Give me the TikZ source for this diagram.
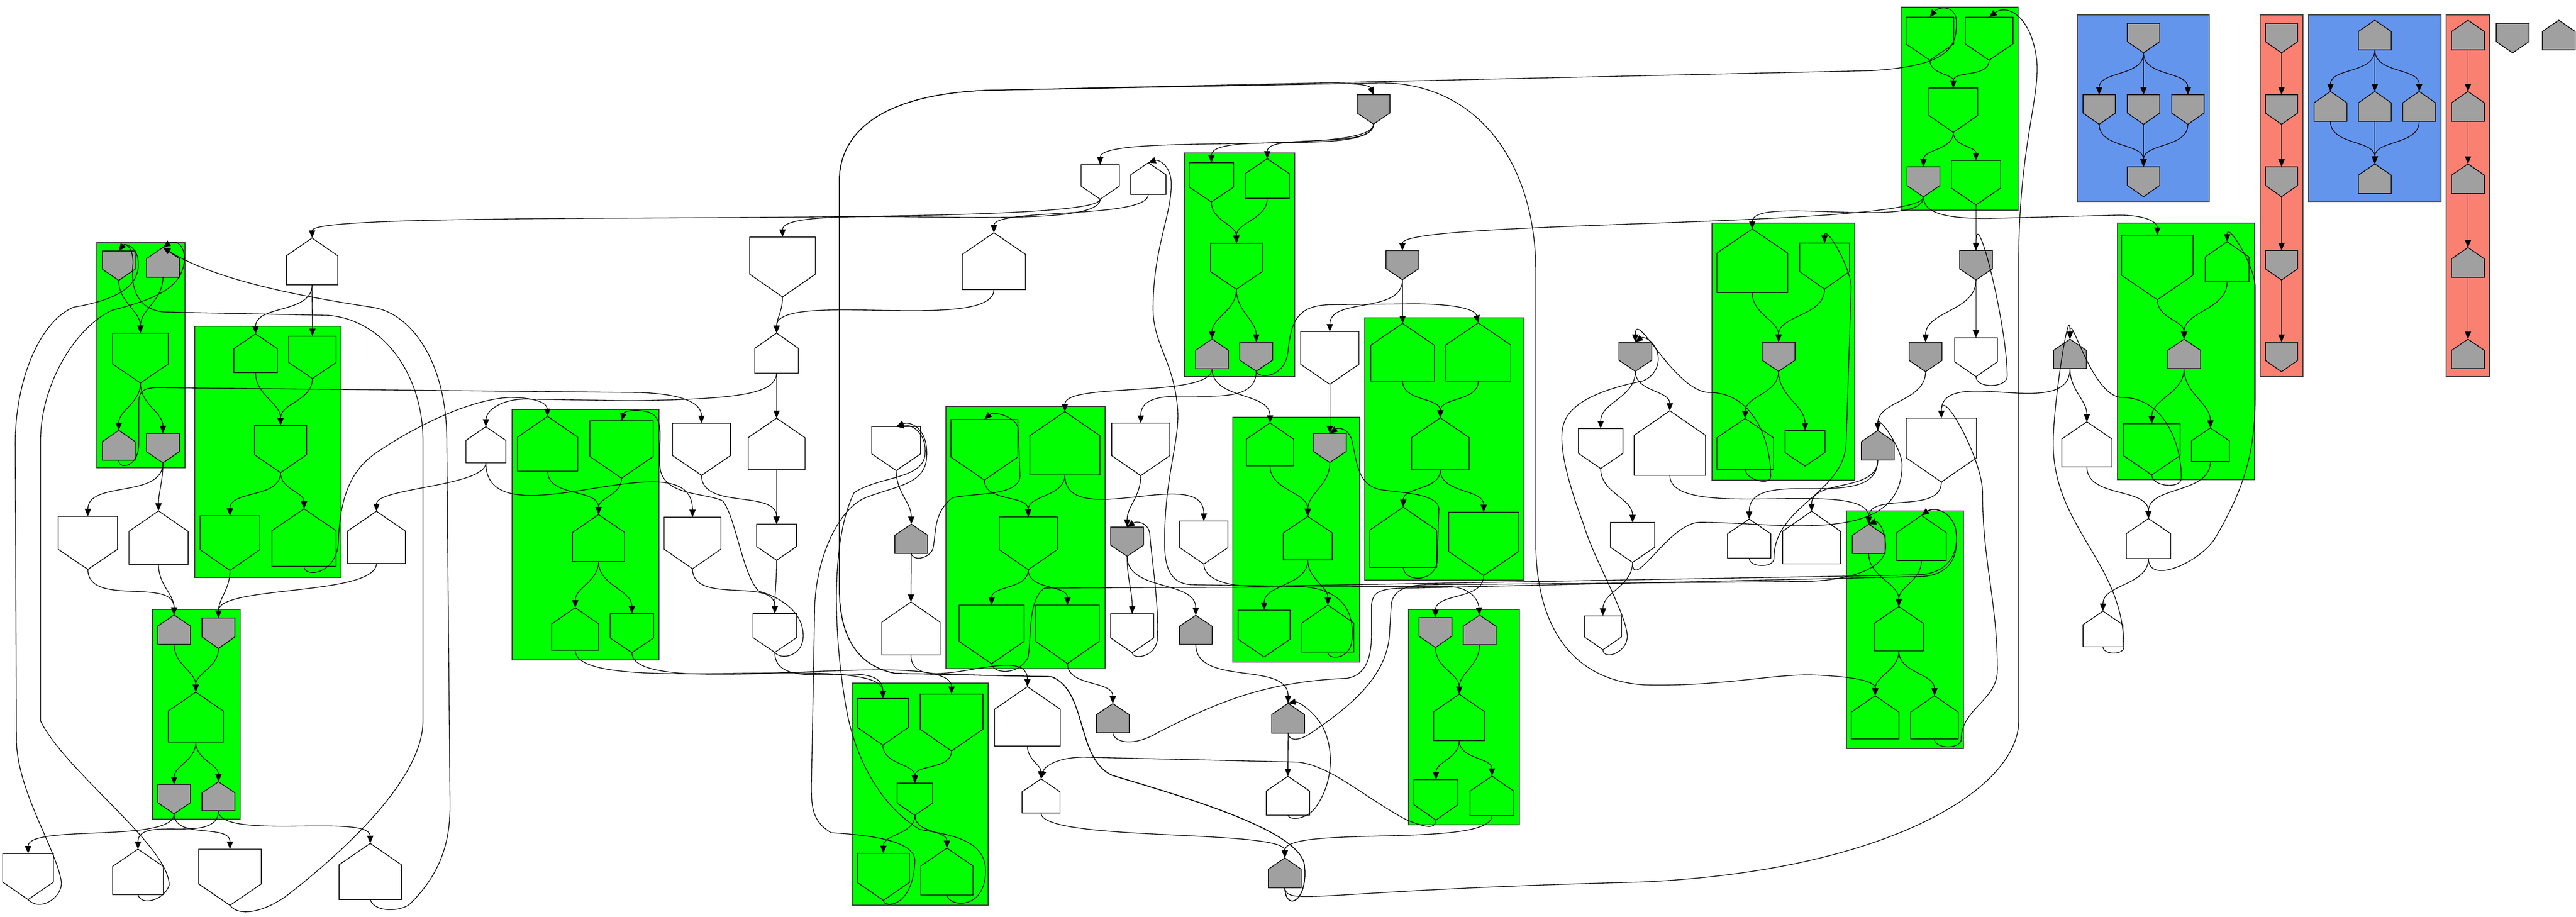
\documentclass[tikz,border=0pt]{standalone}
\usetikzlibrary{calc,arrows.meta}
\definecolor{mygray}{RGB}{160,160,160}
\definecolor{myblue}{RGB}{100,149,237}
\definecolor{myred}{RGB}{250,128,114}
\colorlet{mygreen}{green}
\tikzset{
  vbox/.style={inner sep=0pt,outer sep=0pt,draw=none},
  shp/.style={line width=0.45pt},
  clu/.style={draw=black!75,line width=0.6pt,inner sep=0pt,outer sep=0pt},
  edge/.style={-{Triangle[length=4.6pt,width=3.8pt]},line width=0.42pt},
}
% house pointing up: [fill]{name}{x}{top}{bottom}{width}
\newcommand{\HUp}[6][white]{%
  \node[vbox,minimum width=#6pt,minimum height={(#5-#4)*1pt},anchor=north] (#2) at (#3,-#4) {};
  \filldraw[shp,fill=#1] (#2.south west) -- (#2.south east) -- ($(#2.south east)!0.62!(#2.north east)$)
    -- (#2.north) -- ($(#2.south west)!0.62!(#2.north west)$) -- cycle;}
% house pointing down
\newcommand{\HDn}[6][white]{%
  \node[vbox,minimum width=#6pt,minimum height={(#5-#4)*1pt},anchor=north] (#2) at (#3,-#4) {};
  \filldraw[shp,fill=#1] (#2.north west) -- (#2.north east) -- ($(#2.north east)!0.62!(#2.south east)$)
    -- (#2.south) -- ($(#2.north west)!0.62!(#2.south west)$) -- cycle;}
% cluster box: {name}{colour}{x1}{y1}{x2}{y2}
\newcommand{\Clu}[6]{%
  \node[clu,fill=#2,minimum width={(#5-#3)*1pt},minimum height={(#6-#4)*1pt},anchor=north west] (#1) at (#3,-#4) {};}
\newcommand{\Lnk}[3][1]{\draw[edge] (#2.south) to[out=-90,in=90,looseness=#1] (#3.north);}

\begin{document}
\begin{tikzpicture}[x=1pt,y=1pt]
\useasboundingbox (0,0) rectangle (1568.3,-558.3);
% clusters
\Clu{cG1}{mygreen}{1157.5}{4.5}{1228.5}{128}
\Clu{cB1}{myblue}{1264.6}{9}{1345.1}{122.8}
\Clu{cR1}{myred}{1376}{9}{1402}{229.3}
\Clu{cB2}{myblue}{1405.6}{9}{1486}{122.8}
\Clu{cR2}{myred}{1489.3}{9}{1515.7}{229.3}
\Clu{cG4}{mygreen}{1289}{135.9}{1372.7}{292.1}
\Clu{cG3}{mygreen}{1042.2}{135.8}{1129.2}{292.2}
\Clu{cG5}{mygreen}{1124}{311}{1195.3}{455.7}
\Clu{cGA}{mygreen}{59}{147.6}{112.5}{284.8}
\Clu{cGB}{mygreen}{118.5}{198.7}{207.7}{351.6}
\Clu{cGC}{mygreen}{92.7}{371.2}{146.3}{498.8}
\Clu{cGD}{mygreen}{311.7}{249.4}{401.1}{401.7}
\Clu{cGE}{mygreen}{575.9}{247.5}{672.9}{407.1}
\Clu{cGF}{mygreen}{518.8}{415.8}{601.7}{551.1}
\Clu{cGH}{mygreen}{721}{93.1}{788.2}{229.3}
\Clu{cGI}{mygreen}{830.9}{193.4}{927.8}{353.1}
\Clu{cGJ}{mygreen}{750.6}{254.2}{827.6}{403.2}
\Clu{cGL}{mygreen}{857.4}{371.2}{924.9}{502.3}

% top right
\HDn[mygreen]{g1a}{1174.9}{10.5}{36.7}{29}
\HDn[mygreen]{g1b}{1211}{10.5}{36.7}{29}
\HDn[mygreen]{g1c}{1189.2}{53.6}{80.6}{29.7}
\HDn[mygray]{g1d}{1171}{101.6}{119.9}{20}
\HDn[mygreen]{g1e}{1203}{97.7}{124.8}{30}
\HDn[mygray]{b1a}{1305}{14.2}{32.2}{19.7}
\HDn[mygray]{b1b}{1278}{57.7}{75.7}{19.7}
\HDn[mygray]{b1c}{1305}{57.7}{75.7}{19.7}
\HDn[mygray]{b1d}{1332}{57.7}{75.7}{19.7}
\HDn[mygray]{b1e}{1305}{101.6}{119.8}{19.7}
\HDn[mygray]{r1a}{1389}{14.2}{32.2}{19.6}
\HDn[mygray]{r1b}{1389}{57.7}{75.7}{19.6}
\HDn[mygray]{r1c}{1389}{101.6}{119.8}{19.6}
\HDn[mygray]{r1d}{1389}{152.5}{170.5}{19.6}
\HDn[mygray]{r1e}{1389}{208.3}{226.3}{19.6}
\HUp[mygray]{b2a}{1445.8}{12.3}{30.4}{20}
\HUp[mygray]{b2b}{1418.8}{55.7}{73.9}{20}
\HUp[mygray]{b2c}{1445.8}{55.7}{73.9}{20}
\HUp[mygray]{b2d}{1472.8}{55.7}{73.9}{20}
\HUp[mygray]{b2e}{1445.8}{99.8}{117.9}{20}
\HUp[mygray]{r2a}{1502.5}{12.3}{30.4}{20}
\HUp[mygray]{r2b}{1502.5}{55.7}{73.9}{20}
\HUp[mygray]{r2c}{1502.5}{99.8}{117.9}{20}
\HUp[mygray]{r2d}{1502.5}{150.7}{168.9}{20}
\HUp[mygray]{r2e}{1502.5}{206.5}{224.4}{20}
\HDn[mygray]{s1}{1529.7}{14.2}{32.2}{20}
\HUp[mygray]{s2}{1557.8}{12.3}{30.4}{20}

% below G1
\HDn[mygray]{h1}{1203}{152.5}{170.5}{20}
\HDn[mygray]{h2}{1172.3}{208.3}{226.3}{20}
\HDn{h3}{1203}{205.7}{229.3}{26}
\HUp[mygray]{h4}{1260.2}{206.5}{224.4}{20}
\HUp{h5}{1270.5}{256.8}{284.3}{30.5}
\HUp{h6}{1308}{315.7}{340}{27}
\HUp{h7}{1280.3}{372.1}{393.8}{24.3}
\HDn[mygreen]{g4a}{1313.4}{143.1}{182.5}{43.6}
\HUp[mygreen]{g4b}{1355.9}{147.2}{171.6}{26.7}
\HUp[mygray]{g4c}{1329.7}{206.5}{224.4}{20}
\HDn[mygreen]{g4d}{1310}{258}{289.2}{34.6}
\HUp[mygreen]{g4e}{1345.7}{260.6}{281}{23}

% G3, G5 and around
\HUp[mygreen]{g3a}{1066.8}{139.4}{178.1}{43.1}
\HDn[mygreen]{g3b}{1110.8}{148}{176}{30.3}
\HDn[mygray]{g3c}{1082.8}{208.3}{226.1}{20}
\HUp[mygreen]{g3d}{1062.5}{254.8}{285.7}{34.5}
\HDn[mygreen]{g3e}{1098.9}{262.1}{283.8}{24.3}
\HDn[mygray]{k1}{995.6}{208.3}{226.1}{20}
\HDn{k2}{974.5}{260.9}{285.3}{27.1}
\HUp{k3}{1016.6}{250.1}{289.4}{43.4}
\HDn{k4}{993.9}{318.1}{342.4}{27}
\HDn{k5}{975.9}{375}{395.6}{22.6}
\HUp[mygray]{k6}{1143.2}{262.1}{280.1}{20}
\HDn{k7}{1181.9}{254.6}{293.5}{42.8}
\HUp{k8}{1064.9}{316}{339.8}{26.4}
\HUp{k9}{1102.9}{311.3}{343.3}{35.2}
\HUp[mygray]{g5a}{1137.7}{319.2}{337}{20}
\HUp[mygreen]{g5b}{1169.8}{313.8}{341.3}{30.1}
\HUp[mygreen]{g5c}{1156}{369.3}{396.3}{30}
\HUp[mygreen]{g5d}{1141.6}{423.6}{449.9}{29}
\HUp[mygreen]{g5e}{1177.7}{423.6}{449.9}{29}

% left side
\HDn[mygray]{ga1}{72.3}{152.8}{170.7}{20}
\HUp[mygray]{ga2}{99.2}{150.6}{168.8}{20}
\HDn[mygreen]{ga3}{85.5}{202.8}{233.2}{33.8}
\HUp[mygray]{ga4}{72.3}{262}{280.2}{20}
\HDn[mygray]{ga5}{99.2}{263.9}{281.8}{20}
\HUp{t1}{190}{144.9}{173.4}{31.3}
\HUp[mygreen]{gb1}{155.6}{203.3}{226.9}{26.5}
\HDn[mygreen]{gb2}{190.2}{204.7}{230.5}{28.9}
\HDn[mygreen]{gb3}{170.8}{259}{287.8}{31.7}
\HDn[mygreen]{gb4}{140}{314.1}{347.3}{36.4}
\HUp[mygreen]{gb5}{185.1}{309.8}{344.8}{39}
\HDn{l1}{53.5}{314.4}{346.7}{36.1}
\HUp{l2}{96.5}{311.1}{343.7}{36}
\HUp{l3}{229.2}{311.3}{343}{35.2}
\HUp{l4}{295.8}{259.8}{281.8}{24.3}
\HUp[mygray]{gc1}{106}{374.4}{392.3}{20}
\HDn[mygray]{gc2}{133}{376.3}{394.8}{20}
\HUp[mygreen]{gc3}{119.2}{421.4}{451.8}{33.6}
\HDn[mygray]{gc4}{106}{477.6}{495.5}{20}
\HUp[mygray]{gc5}{133}{476}{493.6}{20}
\HDn{m1}{17.1}{519.7}{547.7}{30.9}
\HUp{m2}{84}{517}{544.7}{30.9}
\HDn{m3}{140}{517}{551.2}{38.1}
\HUp{m4}{225.4}{513.5}{547.7}{37.9}

% middle left
\HDn{p1}{476.4}{144.3}{180.8}{40}
\HUp{p2}{605.1}{141.7}{176.3}{38.4}
\HUp{p3}{472.8}{202.8}{227.2}{26.5}
\HUp[mygreen]{gd1}{333.4}{253.5}{286.9}{36.7}
\HDn[mygreen]{gd2}{378.4}{256.2}{291.2}{38.6}
\HUp[mygreen]{gd3}{364.4}{313.3}{341.9}{31.7}
\HUp[mygreen]{gd4}{350.2}{370}{395.9}{28.6}
\HDn[mygreen]{gd5}{384.7}{373.7}{397.4}{26.5}
\HDn{p4}{427.1}{257.7}{289.4}{35.3}
\HUp{p5}{472.8}{254.6}{285.9}{34.6}
\HDn{p6}{421.6}{314.9}{346.3}{34.6}
\HDn{p7}{472.8}{319.1}{341.1}{24.3}
\HDn{p8}{471.7}{373.5}{397.2}{26.6}
\HDn{q1}{545.6}{259.7}{286.5}{29.7}
\HUp[mygray]{q2}{554.8}{319.1}{337}{20}
\HUp{q3}{554.6}{366.5}{398.8}{35.5}
\HDn[mygreen]{ge1}{599.3}{255.4}{292.3}{40.7}
\HUp[mygreen]{ge2}{648.3}{250.6}{289.2}{42.6}
\HDn[mygreen]{ge3}{626}{314.7}{346.9}{35.3}
\HDn[mygreen]{ge4}{603.7}{368.4}{404.1}{39.6}
\HDn[mygreen]{ge5}{649.9}{368.4}{404}{38.7}
\HDn[mygreen]{gf1}{537.5}{425.3}{453.7}{31.1}
\HDn[mygreen]{gf2}{579.3}{422.6}{457.2}{38.2}
\HDn[mygreen]{gf3}{557}{476.8}{496.4}{21.6}
\HDn[mygreen]{gf4}{537.8}{519.5}{548.2}{31.7}
\HUp[mygreen]{gf5}{576.5}{516.4}{544.9}{31.8}
\HUp{u1}{625.5}{418.1}{454.2}{40}
\HUp{u2}{633.8}{474.2}{495}{23.1}
\HDn{u3}{694.5}{257.6}{289.6}{35.3}
\HDn[mygray]{u4}{686.2}{320.9}{338.7}{20}
\HDn{u5}{689.3}{373.7}{397.4}{26.2}
\HDn{u6}{732.9}{317.2}{343.4}{29.3}
\HUp[mygray]{u7}{728}{374.6}{392.3}{20}
\HUp[mygray]{u8}{677.5}{428.4}{446.1}{20}

% upper middle
\HDn[mygray]{v1}{836.2}{57.7}{75.6}{20}
\HDn{v2}{669.8}{100.3}{121.3}{23.3}
\HUp{v3}{699.1}{99.1}{118.4}{21.5}
\HDn[mygreen]{gh1}{737.5}{99.1}{123}{27}
\HUp[mygreen]{gh2}{771.5}{96.6}{120.7}{26.9}
\HDn[mygreen]{gh3}{752.7}{148.1}{176.1}{31.4}
\HUp[mygray]{gh4}{737.9}{206.4}{224.5}{20}
\HDn[mygray]{gh5}{764.8}{208.3}{226}{20}
\HDn[mygray]{v4}{853.8}{152.6}{170.3}{20}
\HDn{v5}{809.6}{201.9}{234}{35.5}
\HUp[mygreen]{gi1}{853.9}{196.9}{232}{38.8}
\HUp[mygreen]{gi2}{900}{196.6}{232}{39.6}
\HUp[mygreen]{gi3}{876.9}{254.4}{286.1}{35.1}
\HUp[mygreen]{gi4}{854.3}{308.8}{345.5}{40.7}
\HDn[mygreen]{gi5}{903.3}{311.9}{350.4}{42.7}
\HUp[mygreen]{gj1}{773.2}{257.5}{283.7}{28.9}
\HDn[mygray]{gj2}{809.6}{263.9}{281.6}{20}
\HUp[mygreen]{gj3}{796.2}{314.4}{340.9}{29.8}
\HDn[mygreen]{gj4}{769.6}{371.5}{400}{31.7}
\HUp[mygreen]{gj5}{808.4}{368.4}{397}{31.5}
\HDn[mygray]{gl1}{873.9}{376}{394.3}{20}
\HUp[mygray]{gl2}{900.8}{374.5}{392.5}{20}
\HUp[mygreen]{gl3}{888.4}{422.7}{450.9}{31.2}
\HDn[mygreen]{gl4}{874.2}{474.7}{499.3}{26.8}
\HUp[mygreen]{gl5}{908.3}{472.5}{496.6}{26.6}
\HUp[mygray]{w1}{784.2}{428.2}{446.4}{20}
\HUp{w2}{784.1}{472.6}{496.3}{26.3}
\HUp[mygray]{w3}{782.2}{522.3}{540.6}{20}

% links inside the boxes
\Lnk{g1a}{g1c} \Lnk{g1b}{g1c} \Lnk{g1c}{g1d} \Lnk{g1c}{g1e}
\Lnk{b1a}{b1b} \Lnk{b1a}{b1c} \Lnk{b1a}{b1d} \Lnk{b1b}{b1e} \Lnk{b1c}{b1e} \Lnk{b1d}{b1e}
\Lnk{r1a}{r1b} \Lnk{r1b}{r1c} \Lnk{r1c}{r1d} \Lnk{r1d}{r1e}
\Lnk{b2a}{b2b} \Lnk{b2a}{b2c} \Lnk{b2a}{b2d} \Lnk{b2b}{b2e} \Lnk{b2c}{b2e} \Lnk{b2d}{b2e}
\Lnk{r2a}{r2b} \Lnk{r2b}{r2c} \Lnk{r2c}{r2d} \Lnk{r2d}{r2e}
\Lnk{g4a}{g4c} \Lnk{g4b}{g4c} \Lnk{g4c}{g4d} \Lnk{g4c}{g4e}
\Lnk{g3a}{g3c} \Lnk{g3b}{g3c} \Lnk{g3c}{g3d} \Lnk{g3c}{g3e}
\Lnk{g5a}{g5c} \Lnk{g5b}{g5c} \Lnk{g5c}{g5d} \Lnk{g5c}{g5e}
\Lnk{ga1}{ga3} \Lnk{ga2}{ga3} \Lnk{ga3}{ga4} \Lnk{ga3}{ga5}
\Lnk{gb1}{gb3} \Lnk{gb2}{gb3} \Lnk{gb3}{gb4} \Lnk{gb3}{gb5}
\Lnk{gc1}{gc3} \Lnk{gc2}{gc3} \Lnk{gc3}{gc4} \Lnk{gc3}{gc5}
\Lnk{gd1}{gd3} \Lnk{gd2}{gd3} \Lnk{gd3}{gd4} \Lnk{gd3}{gd5}
\Lnk{ge1}{ge3} \Lnk{ge2}{ge3} \Lnk{ge3}{ge4} \Lnk{ge3}{ge5}
\Lnk{gf1}{gf3} \Lnk{gf2}{gf3} \Lnk{gf3}{gf4} \Lnk{gf3}{gf5}
\Lnk{gh1}{gh3} \Lnk{gh2}{gh3} \Lnk{gh3}{gh4} \Lnk{gh3}{gh5}
\Lnk{gi1}{gi3} \Lnk{gi2}{gi3} \Lnk{gi3}{gi4} \Lnk{gi3}{gi5}
\Lnk{gj1}{gj3} \Lnk{gj2}{gj3} \Lnk{gj3}{gj4} \Lnk{gj3}{gj5}
\Lnk{gl1}{gl3} \Lnk{gl2}{gl3} \Lnk{gl3}{gl4} \Lnk{gl3}{gl5}

% links between boxes
\Lnk{g1e}{h1} \Lnk{h1}{h2} \Lnk{h1}{h3} \Lnk{h4}{h5} \Lnk{h5}{h6} \Lnk{g4e}{h6} \Lnk{h6}{h7}
\Lnk[0.5]{g1d}{g3a} \Lnk[0.15]{g1d}{v4} \Lnk{h2}{k6} \Lnk{h4}{k7} \Lnk{k7}{g5a}
\Lnk{k1}{k2} \Lnk{k1}{k3} \Lnk{k2}{k4} \Lnk[0.6]{k3}{g5a} \Lnk{k4}{k5} \Lnk{k6}{k8} \Lnk{k6}{k9}
\Lnk[0.3]{v1}{v2} \Lnk[0.5]{v1}{gh1} \Lnk[0.6]{v1}{gh2} \Lnk[0.3]{v2}{p1} \Lnk[0.1]{v2}{t1} \Lnk[0.4]{v3}{p2}
\Lnk{v4}{v5} \Lnk{v4}{gi1} \Lnk{v5}{gj2}
\Lnk{gh4}{gj1} \Lnk[0.5]{gh4}{ge2} \Lnk{gh5}{u3} \Lnk{gi5}{gl1}
\Lnk{u3}{u4} \Lnk{u4}{u5} \Lnk{u4}{u7} \Lnk{u7}{w1} \Lnk{w1}{w2}
\Lnk{ge2}{u6} \Lnk{ge5}{u8}
\Lnk{q1}{q2} \Lnk{q2}{q3} \Lnk{q3}{u1} \Lnk{u1}{u2} \Lnk[0.3]{u2}{w3} \Lnk[0.4]{gl5}{w3}
\Lnk{p1}{p3} \Lnk[0.5]{p2}{p3} \Lnk{p3}{p5} \Lnk{p4}{p7} \Lnk{p5}{p7} \Lnk{p7}{p8} \Lnk{p6}{p8}
\Lnk{l4}{p6} \Lnk[0.5]{l4}{l3}
\Lnk[0.4]{gd4}{gf1} \Lnk[0.4]{gd5}{gf2} \Lnk{p8}{gf1}
\Lnk{t1}{gb1} \Lnk{t1}{gb2} \Lnk{ga5}{l1} \Lnk{ga5}{l2} \Lnk{l1}{gc1} \Lnk{l2}{gc1}
\Lnk{gb4}{gc2} \Lnk[0.5]{l3}{gc2}
\Lnk[0.5]{gc4}{m1} \Lnk{gc4}{m3} \Lnk{gc5}{m2} \Lnk[0.5]{gc5}{m4}

% long and back links
\draw[edge] (g1d.south) .. controls (1171,-130) and (1185,-133) .. (1210,-133) -- (1290,-131)
  .. controls (1306,-131) and (1313.4,-135) .. (g4a.north);
\draw[edge] (h3.south) to[out=-90,in=-90] (1222,-229) to[out=90,in=90] (h1.north);
\draw[edge] (h7.south) to[out=-90,in=-90] (1293,-394) to[out=90,in=-90] (1250,-270) to[out=90,in=90] (h4.north);
\draw[edge] (g4d.south) to[out=-90,in=-90] (1328,-291) to[out=90,in=0] (1292,-242) to[out=180,in=90] (h4.north);
\draw[edge] (h6.south) to[out=-90,in=-120] (1349,-327) to[out=60,in=-90] (1373,-240) -- (1373,-175)
  to[out=90,in=90] (g4b.north);
\draw[edge] (g5e.south) to[out=-90,in=-90] (1194,-450) to[out=90,in=-90] (1216,-408)
  to[out=90,in=-90] (1207,-300) to[out=90,in=90] (k7.north);
\draw[edge] (k8.south) to[out=-90,in=-90] (1080,-340) to[out=90,in=-90] (1124,-268) -- (1127,-175)
  to[out=90,in=90] (g3b.north);
\draw[edge] (k4.south) to[out=-90,in=180] (1035,-318) to[out=0,in=-90] (1158,-283) to[out=90,in=90] (k6.north);
\draw[edge] (g3d.south) to[out=-90,in=-90] (1078,-290) to[out=90,in=0] (1041,-239) to[out=180,in=90] (k1.north);
\draw[edge] (k5.south) .. controls (976,-402) and (990,-398) .. (990.7,-388) .. controls (991,-375) and (970,-340) .. (964,-319)
  .. controls (955,-295) and (948,-270) .. (952,-258) .. controls (956,-245) and (975,-237) .. (1000,-232)
  .. controls (1008,-229) and (1012,-220) .. (1008,-212) .. controls (1005,-206) and (1000,-205) .. (k1.north);
\draw[edge] (w3.south) .. controls (784,-552) and (800,-542) .. (1000,-537)
  .. controls (1150,-530) and (1229,-480) .. (1229,-439) -- (1229,-160)
  .. controls (1229,-90) and (1242,-60) .. (1240,-37) .. controls (1237,-10) and (1222,-2) .. (g1b.north);
\draw[edge] (w3.south) .. controls (783,-556) and (797,-548) .. (794,-526)
  .. controls (790,-505) and (720,-485) .. (677,-472) .. controls (655,-462) and (662,-420) .. (640,-412)
  -- (545,-410) .. controls (520,-405) and (511,-385) .. (511,-358) -- (511,-110)
  .. controls (511,-85) and (530,-58) .. (600,-55) -- (1140,-43)
  .. controls (1185,-40) and (1192,-30) .. (1191,-12) .. controls (1190,-3) and (1180,-4) .. (g1a.north);
\draw[edge] (w3.south) .. controls (783,-556) and (797,-548) .. (794,-526)
  .. controls (790,-505) and (720,-485) .. (677,-472) .. controls (655,-462) and (662,-420) .. (640,-412)
  -- (545,-410) .. controls (520,-405) and (511,-385) .. (511,-358) -- (511,-110)
  .. controls (511,-85) and (530,-58) .. (600,-55) -- (810,-51) .. controls (826,-50.5) and (834,-52) .. (v1.north);
\draw[edge] (w3.south) .. controls (783,-556) and (797,-548) .. (794,-526)
  .. controls (790,-505) and (720,-485) .. (677,-472) .. controls (655,-462) and (662,-420) .. (640,-412)
  -- (545,-410) .. controls (520,-405) and (511,-385) .. (511,-358) -- (511,-110)
  .. controls (511,-85) and (530,-58) .. (600,-55) -- (840,-50.5) .. controls (900,-50) and (935,-100) .. (935,-165)
  -- (935,-330) .. controls (935,-385) and (960,-415) .. (1002,-417) .. controls (1050,-418) and (1080,-410) .. (1105,-411)
  .. controls (1130,-412) and (1142,-415) .. (g5d.north);
\draw[edge] (m1.south) .. controls (25,-556) and (40,-545) .. (37,-535) .. controls (33,-515) and (10,-480) .. (10,-450)
  -- (9.3,-270) .. controls (9.3,-230) and (25,-195) .. (45,-187) .. controls (75,-182) and (86,-172) .. (84,-158)
  .. controls (83,-150) and (76,-148) .. (ga1.north);
\draw[edge] (m2.south) .. controls (86,-552) and (100,-548) .. (103,-539) .. controls (103,-515) and (40,-470) .. (24.7,-439)
  -- (24.7,-268) .. controls (24.7,-235) and (45,-200) .. (68,-189) .. controls (95,-182) and (112,-175) .. (112.3,-157)
  .. controls (112,-148) and (106,-146) .. (ga2.north);
\draw[edge] (m3.south) .. controls (145,-558) and (160,-556) .. (175,-545) .. controls (220,-510) and (257.5,-470) .. (257.5,-439)
  -- (257.5,-268) .. controls (257.5,-230) and (235,-195) .. (200,-192) -- (100,-190)
  .. controls (80,-188) and (80,-170) .. (81,-160) .. controls (81,-150) and (76,-148) .. (ga1.north);
\draw[edge] (m4.south) .. controls (228,-556) and (245,-555) .. (250,-550) .. controls (270,-530) and (274,-510) .. (274,-490)
  -- (272,-268) .. controls (272,-220) and (250,-190) .. (226,-187) .. controls (180,-180) and (130,-170) .. (ga2.north);
\draw[edge] (ga4.south) .. controls (72,-286) and (84.5,-285) .. (84.5,-270) -- (84.5,-245)
  .. controls (84.5,-238) and (88,-236) .. (96,-236) -- (390,-239) .. controls (415,-240) and (427,-245) .. (p4.north);
\draw[edge] (gb5.south) .. controls (185,-352) and (205,-350) .. (206,-330) .. controls (207,-300) and (215,-285) .. (230,-275)
  .. controls (260,-255) and (290,-243) .. (310,-242) .. controls (325,-242) and (333,-245) .. (gd1.north);
\draw[edge] (p3.south) .. controls (472,-240) and (450,-243) .. (384,-244) -- (320,-243)
  .. controls (305,-243) and (296,-250) .. (l4.north);
\draw[edge] (p8.south) .. controls (475,-402) and (489,-400) .. (489,-387) .. controls (489,-370) and (470,-362) .. (462,-360)
  .. controls (452,-350) and (448,-315) .. (440,-305) .. controls (430,-300) and (405,-302) .. (402,-286)
  .. controls (400,-270) and (406,-255) .. (395,-251) .. controls (388,-249) and (380,-250) .. (gd2.north);
\draw[edge] (gf4.south) .. controls (538,-553) and (556,-553) .. (557,-524) .. controls (557,-510) and (520,-508) .. (506,-507)
  .. controls (494,-500) and (494,-490) .. (494,-478) -- (496,-369) .. controls (497,-340) and (510,-310) .. (527,-303)
  .. controls (545,-296) and (562,-295) .. (564,-280) .. controls (566,-262) and (555,-256) .. (q1.north);
\draw[edge] (gf5.south) .. controls (577,-552) and (600,-555) .. (600,-530) .. controls (600,-510) and (575,-508) .. (560,-505)
  .. controls (535,-490) and (520,-460) .. (515,-430) .. controls (508,-390) and (505,-330) .. (520,-300)
  .. controls (535,-290) and (560,-292) .. (563,-278) .. controls (565,-265) and (556,-258) .. (q1.north);
\draw[edge] (gi4.south) .. controls (855,-355) and (875,-355) .. (875,-340) -- (876,-310)
  .. controls (876,-300) and (850,-300) .. (840,-298) .. controls (826,-295) and (826,-280) .. (823,-268)
  .. controls (821,-261) and (815,-260) .. (gj2.north);
\draw[edge] (u5.south) .. controls (690,-402) and (703,-400) .. (704.5,-390) .. controls (706,-370) and (701,-340) .. (700,-325)
  .. controls (699,-318) and (692,-317) .. (u4.north);
\draw[edge] (w2.south) .. controls (785,-500) and (797,-499) .. (802,-490) .. controls (812,-475) and (812,-455) .. (805,-442)
  .. controls (799,-432) and (790,-427) .. (w1.north);
\draw[edge] (gj5.south) .. controls (808,-402) and (822,-402) .. (823,-390) .. controls (825,-370) and (815,-358) .. (790,-357)
  -- (725,-356) .. controls (712,-355) and (709,-345) .. (709,-330) .. controls (709,-290) and (718,-270) .. (717,-250)
  .. controls (715,-220) and (702,-210) .. (702,-188) .. controls (702,-150) and (714,-130) .. (713,-110)
  .. controls (712,-100) and (705,-97) .. (v3.north);
\draw[edge] (gh5.south) .. controls (766,-231) and (782,-230) .. (784,-215) .. controls (786,-195) and (790,-186) .. (810,-185.5)
  -- (860,-185) .. controls (885,-185) and (898,-188) .. (gi2.north);
\draw[edge] (q2.south) .. controls (556,-342) and (566,-340) .. (568,-334) .. controls (570,-325) and (568,-312) .. (580,-303)
  .. controls (595,-300) and (620,-302) .. (621,-290) -- (620,-262) .. controls (620,-254) and (605,-250) .. (ge1.north);
\draw[edge] (w1.south) .. controls (785,-452) and (792,-451) .. (800,-445) .. controls (825,-428) and (845,-410) .. (846,-385)
  -- (847,-368) .. controls (848,-360) and (855,-356) .. (870,-356) -- (1100,-354)
  .. controls (1130,-353) and (1148,-345) .. (1148,-333) .. controls (1148,-322) and (1143,-317) .. (g5a.north);
\draw[edge] (u8.south) .. controls (678,-452) and (690,-455) .. (705,-446) .. controls (740,-428) and (770,-415) .. (820,-413)
  .. controls (832,-411) and (835,-400) .. (835,-385) -- (835,-368) .. controls (836,-360) and (840,-358) .. (860,-358)
  -- (1170,-351) .. controls (1190,-350) and (1192,-335) .. (1191,-325) .. controls (1190,-312) and (1178,-308) .. (g5b.north);
\draw[edge] (u6.south) .. controls (733,-352) and (745,-357) .. (765,-357) -- (1168,-350)
  .. controls (1188,-349) and (1192,-335) .. (1191,-325) .. controls (1190,-312) and (1178,-308) .. (g5b.north);
\draw[edge] (ge4.south) .. controls (604,-410) and (620,-412) .. (626,-400) .. controls (628,-385) and (626,-365) .. (636,-358)
  -- (880,-357) .. controls (895,-357) and (900,-365) .. (gl2.north);
\draw[edge] (gl4.south) .. controls (874,-505) and (868,-504) .. (856,-499) .. controls (830,-485) and (810,-466) .. (790,-464)
  -- (660,-461) .. controls (645,-461) and (636,-466) .. (u2.north);
\end{tikzpicture}
\end{document}
